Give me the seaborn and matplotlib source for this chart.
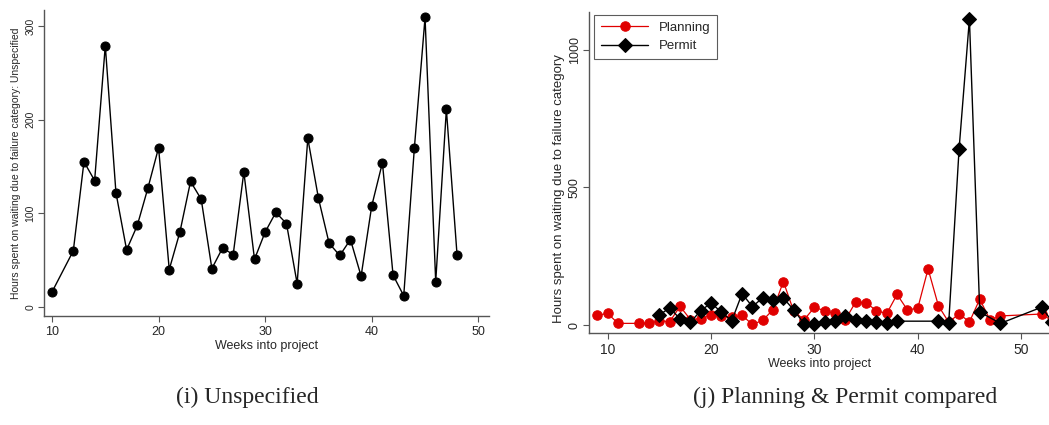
import numpy as np
import pandas as pd
import matplotlib
matplotlib.use("Agg")
import matplotlib.pyplot as plt
import seaborn as sns

# ---- data ----
unspec_weeks = [10, 12, 13, 14, 15, 16, 17, 18, 19, 20, 21, 22, 23, 24, 25, 26, 27, 28, 29,
                30, 31, 32, 33, 34, 35, 36, 37, 38, 39, 40, 41, 42, 43, 44, 45, 46, 47, 48]
unspec_hours = [16, 60, 155, 135, 279, 122, 61, 87, 127, 170, 40, 80, 134, 115, 41, 63, 56, 144, 51,
                80, 101, 89, 25, 180, 116, 68, 55, 72, 33, 108, 154, 34, 12, 170, 309, 27, 211, 56]

planning_weeks = [9, 10, 11, 13, 14, 15, 16, 17, 18, 19, 20, 21, 22, 23, 24, 25, 26, 27, 28, 29,
                  30, 31, 32, 33, 34, 35, 36, 37, 38, 39, 40, 41, 42, 43, 44, 45, 46, 47, 48, 52, 53]
planning_hours = [36, 42, 6, 6, 6, 16, 12, 68, 20, 23, 35, 33, 28, 35, 2, 17, 56, 158, 50, 19,
                  64, 52, 42, 20, 84, 81, 52, 42, 111, 55, 61, 204, 70, 10, 41, 11, 94, 18, 33, 40, 15]

permit_weeks = [15, 16, 17, 18, 19, 20, 21, 22, 23, 24, 25, 26, 27, 28, 29, 30, 31, 32, 33, 34,
                35, 36, 37, 38, 42, 43, 44, 45, 46, 48, 52, 53]
permit_hours = [36, 63, 22, 10, 52, 80, 47, 15, 114, 67, 99, 90, 98, 55, 5, 5, 12, 15, 31, 18,
                14, 12, 6, 14, 14, 9, 640, 1113, 47, 6, 65, 12]

xlabel = "Weeks into project"
ylabel_left = "Hours spent on waiting due to failure category: Unspecified"
ylabel_right = "Hours spent on waiting due to failure category"
caption_left = "(i) Unspecified"
caption_right = "(j) Planning & Permit compared"

sns.set_style("ticks")
plt.rcParams['font.family'] = ['Liberation Sans', 'DejaVu Sans']

fig = plt.figure(figsize=(10.49, 4.25), dpi=100)
W, H = 1049, 425
axL = fig.add_axes([44 / W, 1 - 316 / H, (489 - 44) / W, (316 - 10) / H])
axR = fig.add_axes([589.3 / W, 1 - 333 / H, (1049 - 589.3) / W, (333 - 12) / H])

dfL = pd.DataFrame({"week": unspec_weeks, "hours": unspec_hours})
sns.lineplot(data=dfL, x="week", y="hours", ax=axL, color="black", marker="o",
             markersize=6.5, markeredgecolor="black", linewidth=1.0)

dfP = pd.DataFrame({"week": planning_weeks, "hours": planning_hours})
dfQ = pd.DataFrame({"week": permit_weeks, "hours": permit_hours})
sns.lineplot(data=dfP, x="week", y="hours", ax=axR, color="#e00000", marker="o",
             markersize=6.8, markeredgecolor="#e00000", linewidth=0.9, label="Planning")
sns.lineplot(data=dfQ, x="week", y="hours", ax=axR, color="black", marker="D",
             markersize=6.8, markeredgecolor="black", linewidth=1.0, label="Permit")

for ax in (axL, axR):
    sns.despine(ax=ax)
    for s in ("left", "bottom"):
        ax.spines[s].set_color("#555555")
        ax.spines[s].set_linewidth(1.0)
    ax.tick_params(direction="out", length=4, width=0.8, color="#555555")
    ax.set_xticks([10, 20, 30, 40, 50])

axL.set_xlim(9.25, 51.0)
axL.set_ylim(-9.6, 317)
axL.set_yticks([0, 100, 200, 300])
axL.set_xlabel(xlabel, fontsize=9, labelpad=2)
axL.set_ylabel(ylabel_left, fontsize=7.5, labelpad=3)
axL.tick_params(axis="x", labelsize=9, pad=3)
axL.tick_params(axis="y", labelsize=7.5, pad=2)
for t in axL.get_yticklabels():
    t.set_rotation(90)
    t.set_va("center")

axR.set_xlim(8.22, 52.7)
axR.set_ylim(-29, 1138)
axR.set_yticks([0, 500, 1000])
axR.set_xlabel(xlabel, fontsize=9, labelpad=1)
axR.set_ylabel(ylabel_right, fontsize=9.5)
axR.yaxis.set_label_coords(-0.052, 0.45)
axR.tick_params(axis="x", labelsize=10, pad=3)
axR.tick_params(axis="y", labelsize=9, pad=2)
for t in axR.get_yticklabels():
    t.set_rotation(90)
    t.set_va("center")

leg = axR.legend(loc="upper left", bbox_to_anchor=(0.011, 0.99), borderaxespad=0,
                 fontsize=9.5, frameon=True, fancybox=False, edgecolor="#333333",
                 handlelength=3.6, borderpad=0.5, labelspacing=0.45, handletextpad=0.8)
leg.get_frame().set_linewidth(0.8)

fig.text(247 / W, 1 - 397 / H, caption_left, family=['Liberation Serif', 'DejaVu Serif'],
         fontsize=17, ha="center", va="center")
fig.text(845 / W, 1 - 397 / H, caption_right, family=['Liberation Serif', 'DejaVu Serif'],
         fontsize=17, ha="center", va="center")

fig.savefig("out.png", dpi=100)
